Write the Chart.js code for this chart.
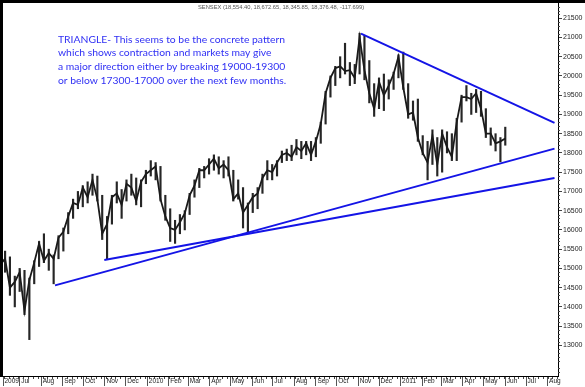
<!DOCTYPE html>
<html>
<head>
<meta charset="utf-8">
<script src="https://cdn.jsdelivr.net/npm/chart.js@4.4.1/dist/chart.umd.min.js"></script>
<style>
  html, body { margin: 0; padding: 0; background: #fff; }
  #wrap { width: 585px; height: 387px; position: relative; }
</style>
</head>
<body>
<div id="wrap"><canvas id="sensex" width="585" height="387"></canvas></div>
<script>
// day 0 of the x axis; weekly bars sit on the Wednesday of each week
const startDate = "2009-06-01";

// weekly high / low / close, week of 1 Jun 2009 .. week of 30 May 2011
const weekHigh = [
  15250, 15450, 15300, 14800, 15000, 14950, 14750, 15200, 15700, 15900,
  15500, 15350, 15850, 16050, 16450, 16800, 17000, 17150, 17250, 17450,
  17400, 16900, 16350, 16900, 17250, 17050, 17300, 17450, 17350, 17300,
  17550, 17800, 17750, 17650, 16900, 16550, 16250, 16400, 16500, 16950,
  17300, 17600, 17650, 17850, 17950, 17900, 17800, 17900, 17550, 17300,
  17100, 16700, 16950, 17100, 17450, 17800, 17700, 17800, 18050, 18100,
  18200, 18350, 18300, 18300, 18300, 18400, 18800, 19600, 20000, 20250,
  20500, 20850, 20350, 20300, 21110, 21050, 20400, 19800, 19950, 20050,
  19900, 20100, 20550, 20620, 19800, 19350, 19400, 18450, 18300, 18600,
  18400, 18600, 18550, 18500, 18900, 19500, 19750, 19550, 19650, 19600,
  19150, 18650, 18500, 18400, 18670
];
const weekLow = [
  14500, 14900, 14300, 14000, 14400, 13800, 13150, 14600, 15050, 15150,
  14950, 14600, 15250, 15450, 15900, 16300, 16550, 16600, 16700, 16900,
  16750, 15750, 15250, 16150, 16700, 16300, 16750, 16900, 16650, 16600,
  17200, 17400, 17300, 16750, 16250, 15700, 15650, 15900, 16000, 16400,
  16850, 17100, 17350, 17450, 17550, 17450, 17350, 17400, 16750, 16800,
  16050, 15900, 16450, 16550, 16950, 17300, 17300, 17400, 17750, 17800,
  17800, 17950, 17850, 17950, 17800, 17900, 18250, 18750, 19450, 19750,
  19950, 20050, 19750, 19800, 20050, 19900, 19300, 18950, 19150, 19100,
  19400, 19650, 19950, 19650, 18900, 18850, 18300, 17950, 17300, 17700,
  17400, 17500, 18000, 17800, 17800, 18800, 19350, 19000, 19050, 18950,
  18400, 18200, 18050, 17770, 18200
];
const weekClose = [
  15100, 15250, 14500, 14650, 14900, 13900, 14700, 15150, 15650, 15200,
  15400, 15250, 15800, 15950, 16350, 16700, 16650, 17100, 16850, 17300,
  16800, 15900, 16150, 16850, 16950, 16650, 17200, 17100, 16750, 17250,
  17450, 17550, 17650, 16800, 16350, 16050, 16000, 16200, 16430, 16900,
  17150, 17550, 17550, 17700, 17850, 17600, 17700, 17550, 16800, 16950,
  16450, 16650, 16850, 16950, 17350, 17550, 17500, 17750, 17950, 18000,
  17900, 18150, 18050, 18250, 17950, 18300, 18750, 19550, 19950, 20200,
  20250, 20125, 20150, 19950, 21000, 20150, 19550, 19150, 19850, 19500,
  19750, 20050, 20500, 19700, 19000, 19050, 18400, 18000, 17750, 18450,
  17700, 18500, 18150, 17900, 18800, 19450, 19450, 19400, 19550, 19150,
  18500, 18500, 18250, 18300, 18376
];

// month marks on the time axis
const monthTicks = [
  "2009-06-07", "2009-07-01", "2009-08-01", "2009-09-01", "2009-10-01", "2009-11-01", "2009-12-01",
  "2010-01-01", "2010-02-01", "2010-03-01", "2010-04-01", "2010-05-01", "2010-06-01",
  "2010-07-01", "2010-08-01", "2010-09-01", "2010-10-01", "2010-11-01", "2010-12-01",
  "2011-01-01", "2011-02-01", "2011-03-01", "2011-04-01", "2011-05-01", "2011-06-01",
  "2011-07-01", "2011-08-01"
];
const monthLabels = [
  "2009", "Jul", "Aug", "Sep", "Oct", "Nov", "Dec",
  "2010", "Feb", "Mar", "Apr", "May", "Jun", "Jul", "Aug", "Sep", "Oct", "Nov", "Dec",
  "2011", "Feb", "Mar", "Apr", "May", "Jun", "Jul", "Aug"
];
const priceTicks = [13000, 13500, 14000, 14500, 15000, 15500, 16000, 16500, 17000,
  17500, 18000, 18500, 19000, 19500, 20000, 20500, 21000, 21500];

// hand drawn trend lines: [date, level] pairs
const trendLines = [
  [["2010-11-05", 21100], ["2011-08-11", 18780]],
  [["2009-08-21", 14560], ["2011-08-11", 18112]],
  [["2009-10-31", 15220], ["2011-08-11", 17348]]
];

const headerText = "SENSEX (18,554.40, 18,672.65, 18,345.85, 18,376.48, -117.699)";
const noteLines = [
  "TRIANGLE- This seems to be the concrete pattern",
  "which shows contraction and markets may give",
  "a major direction either by breaking 19000-19300",
  "or below 17300-17000 over the next few months."
];

const dayNum = s => Math.round((Date.parse(s) - Date.parse(startDate)) / 86400000);
const weekDay = i => 7 * i + 2;

const noPad = s => { s.paddingLeft = 0; s.paddingRight = 0; s.paddingTop = 0; s.paddingBottom = 0; };

const decor = {
  id: "decor",
  afterDraw(chart) {
    const ctx = chart.ctx;
    const area = chart.chartArea;
    const x = chart.scales.x, y = chart.scales.y;
    ctx.save();
    // frame
    ctx.fillStyle = "#000";
    ctx.fillRect(0, 0, chart.width, 3);
    ctx.fillRect(0, 0, 3, area.bottom + 1);
    // minor ticks on price axis
    ctx.fillStyle = "#444";
    for (let v = Math.ceil(y.min / 100) * 100; v <= y.max; v += 100) {
      if (v % 500 === 0) continue;
      ctx.fillRect(area.right, Math.round(y.getPixelForValue(v)), 2, 1);
    }
    // weekly ticks on time axis
    for (let d = 7; d < x.max; d += 7) {
      const px = Math.round(x.getPixelForValue(d));
      if (px <= area.left) continue;
      ctx.fillRect(px, area.bottom + 1, 1, 2);
    }
    // header
    ctx.fillStyle = "#555";
    ctx.textBaseline = "middle";
    ctx.font = '6px "Liberation Sans", Arial';
    const hw = ctx.measureText(headerText).width;
    ctx.font = (6 * 166 / hw).toFixed(2) + 'px "Liberation Sans", Arial';
    ctx.fillText(headerText, 198, 7);
    // note
    ctx.fillStyle = "#3030f4";
    ctx.font = '14px Lato, "Open Sans", sans-serif';
    const nw = ctx.measureText(noteLines[0]).width;
    ctx.font = (14 * 227 / nw).toFixed(2) + 'px Lato, "Open Sans", sans-serif';
    noteLines.forEach((t, i) => ctx.fillText(t, 58, 39.5 + i * 13.6));
    ctx.restore();
  }
};

const datasets = [
  {
    type: "bar",
    data: weekHigh.map((h, i) => ({ x: weekDay(i), y: [weekLow[i], h] })),
    backgroundColor: "#262626",
    barThickness: 1.5,
    borderWidth: 0,
    order: 2
  },
  {
    type: "line",
    data: weekClose.map((c, i) => ({ x: weekDay(i), y: c })),
    borderColor: "#1a1a1a",
    borderWidth: 1.8,
    pointRadius: 0,
    tension: 0,
    order: 1
  }
];
trendLines.forEach(seg => {
  datasets.push({
    type: "line",
    data: seg.map(p => ({ x: dayNum(p[0]), y: p[1] })),
    borderColor: "#1414e6",
    borderWidth: 2,
    pointRadius: 0,
    order: 0
  });
});

new Chart(document.getElementById("sensex").getContext("2d"), {
  type: "bar",
  data: { datasets },
  options: {
    responsive: false,
    animation: false,
    devicePixelRatio: 1,
    layout: { padding: { left: 3, top: 3, right: 0, bottom: 0 } },
    plugins: { legend: { display: false }, tooltip: { enabled: false } },
    scales: {
      x: {
        type: "linear",
        offset: false,
        min: 6,
        max: 806,
        afterBuildTicks: s => { s.ticks = monthTicks.map(d => ({ value: dayNum(d) })); },
        afterFit: s => { s.height = 11; noPad(s); },
        ticks: {
          autoSkip: false,
          maxRotation: 0,
          align: "start",
          labelOffset: 1.5,
          padding: -9,
          color: "#222",
          font: { family: '"Liberation Sans Narrow", "Liberation Sans", Arial', size: 6.5 },
          callback: (v, i) => monthLabels[i]
        },
        grid: { offset: false, drawOnChartArea: false, tickLength: 10, tickColor: "#555" },
        border: { color: "#000" }
      },
      y: {
        position: "right",
        min: 12205,
        max: 21895,
        afterBuildTicks: s => { s.ticks = priceTicks.map(v => ({ value: v })); },
        afterFit: s => { s.width = 27; noPad(s); },
        ticks: {
          padding: 1,
          color: "#222",
          font: { family: '"Liberation Sans", Arial', size: 7 },
          callback: v => String(v)
        },
        grid: { drawOnChartArea: false, tickLength: 4, tickColor: "#444" },
        border: { color: "#000" }
      }
    }
  },
  plugins: [decor]
});
</script>
</body>
</html>
